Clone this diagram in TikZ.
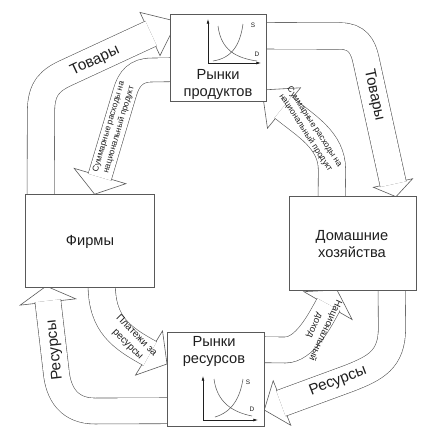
\documentclass[tikz,border=0pt]{standalone}
\usepackage{fontspec}
\setmainfont{Liberation Sans}
\usetikzlibrary{calc,arrows.meta}
\pgfdeclarelayer{back}
\pgfsetlayers{back,main}
\definecolor{ink}{gray}{0.35}
\definecolor{txt}{gray}{0.12}
\tikzset{
  box/.style={draw=ink, fill=white, line width=0.5pt, inner sep=0pt},
  band/.style={draw=ink, line width=0.5pt, double=white, double distance=0.8cm, shorten >=-1pt},
  arrhd/.style={draw=ink, fill=white, line width=0.5pt},
  boxtxt/.style={text=txt, font=\fontsize{12.5}{14.5}\selectfont, align=center, inner sep=0pt},
  flowtxt/.style={text=txt, font=\fontsize{13}{15}\selectfont, inner sep=0pt},
  smalltxt/.style={text=txt, font=\fontsize{7.2}{9}\selectfont, align=center, inner sep=0pt},
  axisln/.style={draw=txt, line width=0.6pt, -{Latex[length=4pt,width=2.5pt]}},
  mcurve/.style={draw=ink, line width=0.45pt},
  glbl/.style={text=txt, font=\fontsize{5.5}{6}\selectfont, inner sep=0pt}
}
\newcommand{\arrhead}[3]{\draw[arrhd] ($(#1)!#3!90:(#2)$) -- (#2) -- ($(#1)!#3!-90:(#2)$) -- cycle;}

\begin{document}
\begin{tikzpicture}[x=0.03cm, y=-0.03cm]
\useasboundingbox (0,0) rectangle (426,438);

% markets, firms and households
\node[box, minimum width=2.88cm, minimum height=2.61cm] (prod) at (218,57.5) {};
\node[box, minimum width=2.91cm, minimum height=2.82cm] (res) at (215.5,379) {};
\node[box, minimum width=3.87cm, minimum height=2.79cm] (firms) at (89.5,240.5) {};
\node[box, minimum width=3.81cm, minimum height=2.82cm] (hh) at (352.5,243) {};

\node[boxtxt] (prodlbl) at (218,84) {Рынки\\продуктов};
\node[boxtxt] (reslbl) at (214,351) {Рынки\\ресурсов};
\node[boxtxt] (firmslbl) at (90,242) {Фирмы};
\node[boxtxt] (hhlbl) at (352,244) {Домашние\\хозяйства};

% small supply/demand graphs
\coordinate (po) at (208,63);
\draw[axisln] (po) -- (208,19);
\draw[axisln] (po) -- (261,63);
\draw[mcurve] (218,26) .. controls (221,50) and (236,58) .. (257,61);
\draw[mcurve] (213,61) .. controls (232,58) and (240,45) .. (243,24);
\node[glbl] (ps) at (253,25) {S};
\node[glbl] (pd) at (257,54) {D};

\coordinate (ro) at (203,420);
\draw[axisln] (ro) -- (203,376);
\draw[axisln] (ro) -- (258,420);
\draw[mcurve] (214,379) .. controls (217,402) and (232,412) .. (252,416);
\draw[mcurve] (215,417) .. controls (232,412) and (240,398) .. (243,379);
\node[glbl] (rs) at (248,382) {S};
\node[glbl] (rd) at (252,409) {D};

\begin{pgfonlayer}{back}
% goods: firms -> product market
\coordinate (b1) at (150,34);
\coordinate (t1) at (177,21.5);
\arrhead{b1}{t1}{0.8}
\draw[band] ($(firms.north west)+(16,2)$) -- (41,112) .. controls (41,88) and (50,80) .. (68,72) -- (b1);

% spending: product market -> firms
\coordinate (b2) at (100,176);
\coordinate (t2) at (94.6,194.2);
\arrhead{b2}{t2}{1.42}
\draw[band, double distance=0.7cm] ($(prod.north west)+(2,56)$) -- (152,70) .. controls (136,70) and (129,78.5) .. (125,92) -- (b2);

% goods: product market -> households
\coordinate (b3) at (393,183);
\coordinate (t3) at (396,196.7);
\arrhead{b3}{t3}{1.43}
\draw[band, double distance=0.78cm] ($(prod.north east)+(-2,22)$) -- (340,36) .. controls (357,36) and (363,46) .. (366,60) -- (b3);

% spending: households -> product market
\coordinate (b4) at (284,108);
\coordinate (t4) at (262,90);
\arrhead{b4}{t4}{0.92}
\draw[band] ($(hh.north west)+(43,4)$) -- (332,170) .. controls (332,140) and (306,126) .. (b4);

% resources: resource market -> firms
\coordinate (b5) at (48,302);
\coordinate (t5) at (46.2,286.1);
\arrhead{b5}{t5}{1.75}
\draw[band, double distance=0.76cm] ($(res.north west)+(3,79)$) -- (95,411) .. controls (70,411) and (58,395) .. (56,370) -- (b5);

% payments: firms -> resource market
\coordinate (b6) at (149,353);
\coordinate (t6) at (167,364);
\arrhead{b6}{t6}{1.23}
\draw[band] ($(firms.south west)+(77,-2)$) .. controls (102,325) and (122,338) .. (b6);

% income: resource market -> households
\coordinate (b7) at (328,305.6);
\coordinate (t7) at (337,290);
\arrhead{b7}{t7}{1.55}
\draw[band, double distance=0.76cm] ($(res.north east)+(-2,18)$) -- (285,350) .. controls (305,350) and (320,320) .. (b7);

% resources: households -> resource market
\coordinate (b8) at (282,403);
\coordinate (t8) at (264.3,410);
\arrhead{b8}{t8}{1.26}
\draw[band] ($(hh.south west)+(103,-2)$) -- (392,328) .. controls (392,360) and (375,368) .. (350,378) -- (b8);
\end{pgfonlayer}

% flow labels
\node[flowtxt, rotate=25] (goodsl) at (95,61) {Товары};
\node[flowtxt, rotate=-78] (goodsr) at (374,95) {Товары};
\node[smalltxt, rotate=73.5] (spendl) at (114,128) {Суммарные расходы на\\национальный продукт};
\node[smalltxt, rotate=-57] (spendr) at (310,130) {Суммарные расходы на\\национальный продукт};
\node[flowtxt, rotate=96] (resl) at (55,350) {Ресурсы};
\node[smalltxt, font=\fontsize{8.5}{10.5}\selectfont, rotate=-45] (pay) at (132,340) {Платежи за\\ресурсы};
\node[smalltxt, font=\fontsize{8}{10}\selectfont, rotate=-115] (inc) at (320,328) {Национальный\\доход};
\node[flowtxt, rotate=21] (resr) at (338,381) {Ресурсы};
\end{tikzpicture}
\end{document}
